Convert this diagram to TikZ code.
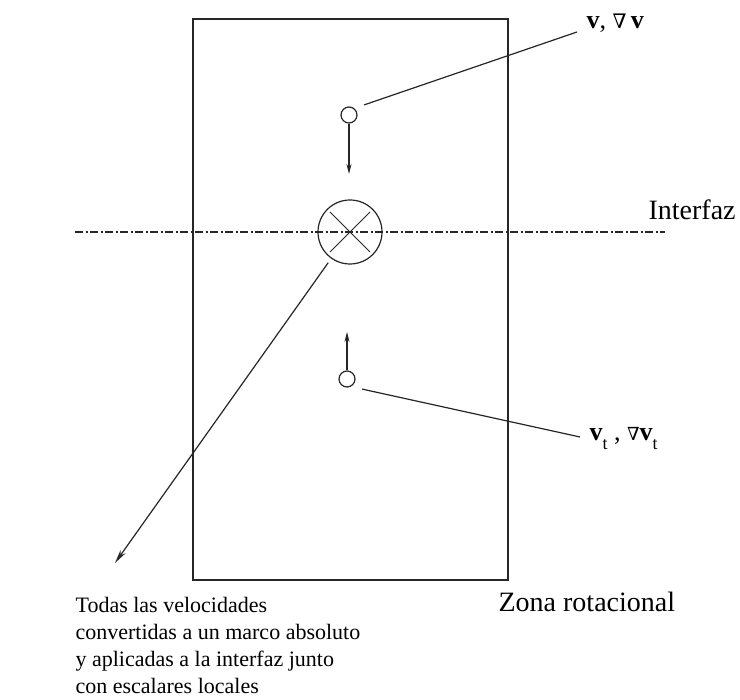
\documentclass[tikz,border=0pt]{standalone}
\usepackage{fontspec}
\setmainfont{Liberation Serif}
\newfontfamily\dvs{DejaVu Serif}
\usetikzlibrary{arrows.meta,calc}
\begin{document}
\begin{tikzpicture}[x=1pt,y=-1pt,line width=1.2pt,color={black!85},
  probe/.style={circle,draw,minimum size=16pt,inner sep=0pt},
  tipsmall/.style={-{Stealth[length=10pt,width=5pt]}},
  lbl/.style={inner sep=0pt,text=black},
  dashdot/.style={line width=1.1pt,dash pattern=on 8pt off 2.5pt on 2pt off 2.5pt}]
\useasboundingbox (0,0) rectangle (740,700);
\fill[white] (0,0) rectangle (740,700);
% zone rectangle
\node[draw,line width=1.5pt,minimum width=315pt,minimum height=561pt,inner sep=0pt] (zone) at (350.5,299.5) {};
% interface line
\coordinate (ia) at (75,232);
\coordinate (ib) at (665,232);
\draw[dashdot] (ia) -- (ib);
% face centre
\node[circle,draw,minimum size=64pt,inner sep=0pt] (face) at (350,232) {};
\draw[line width=1pt] ($(face.center)+(-20,-20)$) -- ($(face.center)+(20,20)$);
\draw[line width=1pt] ($(face.center)+(-20,20)$) -- ($(face.center)+(20,-20)$);
% probes
\node[probe] (p1) at (349,115) {};
\node[probe] (p2) at (347,379) {};
\coordinate (t1) at (349,174);
\coordinate (t2) at (347,332);
\draw[tipsmall] (p1.south) -- (t1);
\draw[tipsmall] (p2.north) -- (t2);
% leader lines
\coordinate (e1) at (577,32);
\coordinate (e2) at (580,437);
\draw (p1.45) ++(9,-4) coordinate (s1) -- (e1);
\draw (p2.-45) ++(9,4) coordinate (s2) -- (e2);
% labels
\node[lbl,anchor=base west,font=\fontsize{26}{28}\selectfont] (l1) at (586,29)
  {\textbf{v}, {\dvs\fontsize{20}{20}\selectfont ∇}\,\textbf{v}};
\node[lbl,anchor=base west,font=\fontsize{26}{28}\selectfont] (l2) at (589,441)
  {\textbf{v}\raisebox{-9pt}{\fontsize{18}{18}\selectfont t}\ ,\ {\dvs\fontsize{18}{18}\selectfont ∇}\textbf{v}\raisebox{-9pt}{\fontsize{18}{18}\selectfont t}};
\node[lbl,anchor=base west,font=\fontsize{28}{30}\selectfont] (lint) at (648,220) {Interfaz};
\node[lbl,anchor=base west,font=\fontsize{28}{30}\selectfont] (lzone) at (498,612) {Zona rotacional};
% long arrow to note
\coordinate (tip) at (115,563);
\draw[-{Stealth[length=14pt,width=6pt]},shorten <=5pt] (face) -- (tip);
\node[lbl,anchor=north west,align=left,font=\fontsize{22}{27}\selectfont] (note) at (75,597)
  {Todas las velocidades\\convertidas a un marco absoluto\\y aplicadas a la interfaz junto\\con escalares locales};
\end{tikzpicture}
\end{document}
